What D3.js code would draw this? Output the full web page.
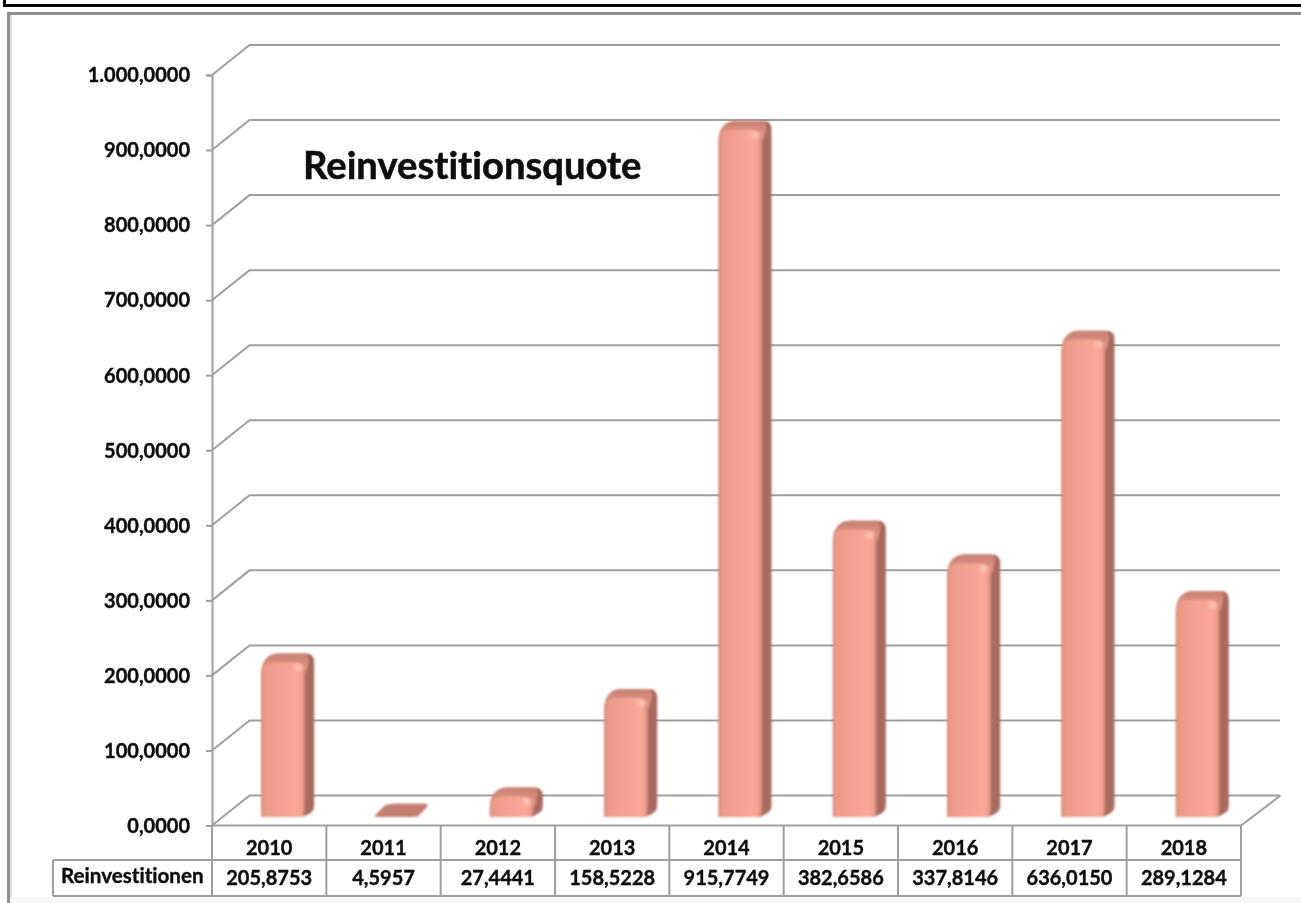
<!DOCTYPE html>
<html><head><meta charset="utf-8">
<script src="https://cdn.jsdelivr.net/npm/d3@7"></script>
<style>html,body{margin:0;padding:0;background:#fff}svg{display:block}
text{font-family:Lato,"Open Sans",sans-serif;font-weight:700;fill:#0a0a0a;stroke:#0a0a0a;stroke-width:.35px;font-variant-ligatures:none}</style>
</head><body><svg id="c" width="1301" height="903"></svg>
<script>
const categories=["2010","2011","2012","2013","2014","2015","2016","2017","2018"];
const values=[205.8753,4.5957,27.4441,158.5228,915.7749,382.6586,337.8146,636.0150,289.1284];
const yTicks=[0,100,200,300,400,500,600,700,800,900,1000];
const seriesName="Reinvestitionen";
const chartTitle="Reinvestitionsquote";

const svg=d3.select("#c");
const fmt=d3.formatLocale({decimal:",",thousands:".",grouping:[3],currency:["","€"]}).format(",.4f");
const L=212,R=1241,Y0=825.5,Y1=75,DX=37.5,DY=30;
const GRID="#9f9f9f";
const x=d3.scaleBand().domain(categories).range([L,R]);
const y=d3.scaleLinear().domain([0,1000]).range([Y0,Y1]);

const defs=svg.append("defs");
const g=defs.append("linearGradient").attr("id","front");
[[0,"#dd8f7e"],[.1,"#ec9b89"],[.45,"#f3a190"],[.8,"#fba896"],[.92,"#f3a290"],[1,"#c47e70"]]
 .forEach(([o,c])=>g.append("stop").attr("offset",o).attr("stop-color",c));
const t=defs.append("linearGradient").attr("id","topf").attr("x1",0).attr("x2",0).attr("y1",0).attr("y2",1);
[[0,"#c98071"],[1,"#ea9c8a"]].forEach(([o,c])=>t.append("stop").attr("offset",o).attr("stop-color",c));
const b=defs.append("filter").attr("id","soft").attr("x","-5%").attr("y","-5%").attr("width","110%").attr("height","110%");
b.append("feGaussianBlur").attr("stdDeviation",.8);
const tb=defs.append("filter").attr("id","tsoft");
tb.append("feGaussianBlur").attr("stdDeviation",.3);
const h=defs.append("radialGradient").attr("id","hl");
h.append("stop").attr("offset",0).attr("stop-color","#ffd0c4").attr("stop-opacity",.9);
h.append("stop").attr("offset",1).attr("stop-color","#ffb8a8").attr("stop-opacity",0);

// page frame
svg.append("path").attr("d","M4.5,0V5.5H1301").attr("fill","none").attr("stroke","#000").attr("stroke-width",3);
svg.append("path").attr("d","M8.5,903V13.5H1301").attr("fill","none").attr("stroke","#8f8f8f").attr("stroke-width",3);
svg.append("rect").attr("x",10).attr("y",15).attr("width",2).attr("height",888).attr("fill","#dcdcdc");
svg.append("rect").attr("x",10).attr("y",897).attr("width",1291).attr("height",6).attr("fill","#f7f7f7");

// gridlines on walls
const grid=svg.append("g").attr("fill","none").attr("stroke",GRID).attr("stroke-width",2);
yTicks.forEach(v=>{
  grid.append("path").attr("d",`M${L},${y(v)}L${L+DX},${y(v)-DY}H1280`);
});
grid.append("path").attr("d",`M${L},${Y0}H${R}L${R+DX+2},${Y0-DY}`);

// y axis
const axis=svg.append("g").attr("transform",`translate(${L},0)`)
 .call(d3.axisLeft(y).tickValues(yTicks).tickFormat(fmt).tickSize(6).tickPadding(16));
axis.selectAll("path,line").attr("stroke",GRID).attr("stroke-width",2);
axis.selectAll("text").attr("font-size",20).attr("dy","0.34em").attr("filter","url(#tsoft)");

// bars
const bw=44,dx=9,dy=9,base=8.5;
const bars=svg.append("g").attr("filter","url(#soft)");
categories.forEach((c,i)=>{
  const x0=x(c)+x.bandwidth()/2-8, x1=x0+bw;
  const yb=y(0)-base, yt=y(values[i])-base, hh=yb-yt;
  const G=bars.append("g");
  if(hh<8){
    // nearly flat bar: a rounded parallelogram
    G.append("path").attr("fill","#c57f70").attr("d",
     `M${x0+2},${yb}Q${x0-3},${yb} ${x0+1},${yb-3}L${x0+dx},${yt-dy+1}Q${x0+dx+5},${yt-dy-1} ${x0+dx+12},${yt-dy-1}H${x1+dx-4}Q${x1+dx+2},${yt-dy} ${x1+dx-3},${yt-dy+4}L${x1-1},${yb-1}Q${x1-4},${yb} ${x1-8},${yb}Z`);
    return;
  }
  const r=Math.min(12,hh);
  // silhouette with side face
  G.append("path").attr("fill","#a86b5f").attr("d",
   `M${x0},${yb}V${yt+r}C${x0},${yt-2} ${x0+7},${yt-dy} ${x0+dx+9},${yt-dy}H${x1+dx-8}Q${x1+dx},${yt-dy} ${x1+dx},${yt-dy+9}V${yb-12}Q${x1+dx},${yb-6} ${x1+dx-4},${yb-4}Q${x1},${yb} ${x1-8},${yb}Z`);
  // top face
  G.append("path").attr("fill","url(#topf)").attr("d",
   `M${x0},${yt+r}C${x0},${yt-2} ${x0+7},${yt-dy} ${x0+dx+9},${yt-dy}H${x1+dx-9}Q${x1+dx-3},${yt-dy+2} ${x1+2},${yt+5}L${x1},${yt+r}Z`);
  // front face
  G.append("path").attr("fill","url(#front)").attr("d",
   `M${x0},${yb}V${yt+r}Q${x0},${yt} ${x0+r},${yt}H${x1-r}Q${x1},${yt} ${x1},${yt+r}V${yb-6}Q${x1-1},${yb} ${x1-8},${yb}Z`);
  G.append("ellipse").attr("cx",x1-7).attr("cy",yt+5).attr("rx",7).attr("ry",6).attr("fill","url(#hl)");
});

// title
svg.append("text").attr("x",303).attr("y",179).attr("font-size",38.2).style("stroke-width",".5px").attr("filter","url(#tsoft)").text(chartTitle);

// data table
const T1=826,T2=860,T3=896,TL=53;
const tbl=svg.append("g").attr("fill","none").attr("stroke",GRID).attr("stroke-width",2);
tbl.append("path").attr("d",`M${TL},${T2}H${R}M${TL},${T3}H${R}M${TL},${T2}V${T3}M${R},${T1}V${T3}`);
tbl.selectAll("path.v").data(categories).join("path").attr("class","v")
  .attr("d",c=>`M${x(c)},${T1}V${T3}`);
const lab=svg.append("g").attr("text-anchor","middle").attr("font-size",20).attr("filter","url(#tsoft)");
lab.selectAll("text.c").data(categories).join("text").attr("class","c")
  .attr("x",c=>x(c)+x.bandwidth()/2).attr("y",855).text(c=>c);
lab.selectAll("text.v").data(values).join("text").attr("class","v")
  .attr("x",(v,i)=>x(categories[i])+x.bandwidth()/2).attr("y",885).text(v=>fmt(v));
svg.append("text").attr("x",61).attr("y",883).attr("font-size",20.6).attr("filter","url(#tsoft)").text(seriesName);
</script></body></html>
